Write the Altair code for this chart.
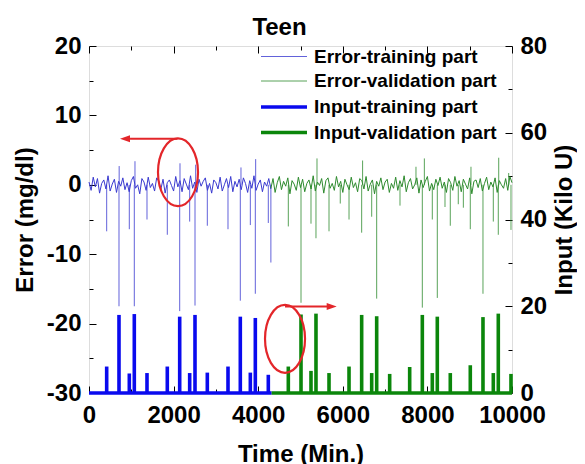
import altair as alt
import pandas as pd

FONT = "Liberation Sans"
W, H = 423, 347

# ---------------- data ----------------
series_names = ["Error-training part", "Error-validation part",
                "Input-training part", "Input-validation part"]
series_colors = ["#3a3ad0", "#2e8b2e", "#0a0aee", "#0b860b"]
series_widths = [0.8, 0.8, 3.6, 3.6]

# error noise, training part (every 50 min, 0..4300)
train_start, train_step = 0, 50
train_noise = [0.4, -0.8, 1.1, -0.3, 0.9, -1.2, 0.2, 0.7, -0.6, 1.3, -0.9, 0.1, 0.8, -1.1, 0.5, -0.2, 1.0, -0.7, 0.3, -1.0,
               0.6, 1.2, -0.5, 0.0, -1.3, 0.9, 0.4, -0.8, 1.1, -0.4, 0.2, -0.9, 1.0, 0.5, -0.6, 0.8, -1.2, 0.3, 0.7, -0.1,
               -0.9, 1.2, -0.3, 0.6, -1.0, 0.9, 0.1, -0.7, 1.3, -0.5, 0.4, -1.1, 0.8, -0.2, 0.5, 1.0, -0.8, 0.2, -1.2, 0.7,
               0.3, -0.6, 1.1, -0.9, 0.0, 0.9, -0.4, 1.2, -1.0, 0.5, -0.3, 0.8, -0.7, 1.0, 0.2, -1.1, 0.6, -0.5, 1.3, -0.8,
               0.1, 0.7, -1.0, 0.4, -0.2, 0.9, -0.6]
# error noise, validation part (every 50 min, 4300..10000)
val_start, val_step = 4300, 50
val_noise = [-0.5, 0.9, -1.1, 0.3, 1.2, -0.7, 0.5, -0.2, 1.0, -1.3, 0.6, 0.1, -0.8, 1.1, -0.4, 0.8, -1.0, 0.2, 0.7, -0.6,
             1.3, -0.9, 0.4, -0.1, 0.9, -1.2, 0.6, 1.0, -0.5, 0.2, -0.8, 1.2, -0.3, 0.5, -1.1, 0.8, 0.0, -0.7, 1.1, -0.4,
             0.3, -1.0, 0.9, 0.6, -0.6, 1.2, -0.9, 0.1, 0.7, -1.3, 0.5, -0.2, 1.0, -0.7, 0.4, 0.8, -1.1, 0.2, -0.5, 1.1,
             -0.8, 0.6, -0.3, 1.3, -1.0, 0.3, 0.9, -0.6, 0.0, 1.0, -1.2, 0.7, -0.4, 0.5, 1.2, -0.9, 0.2, -0.7, 0.8, -0.1,
             1.1, -0.5, 0.4, -1.1, 0.9, 0.3, -0.8, 1.2, -0.2, 0.6, -1.0, 0.8, 0.1, -0.6, 1.0, -1.3, 0.5, 0.7, -0.4, 0.9,
             -0.9, 0.2, 1.1, -0.7, 0.4, -0.3, 1.0, -1.1, 0.6, 0.0, -0.5, 0.9, -0.8, 1.2, 0.3]

# error spikes
spike_train_t = [418, 709, 953, 1071, 1371, 1851, 2144, 2380, 2506, 2797, 3286, 3577, 3814, 3932, 4239, 4300,
                 713, 1087, 2151, 2522, 3593, 3940]
spike_train_v = [-6.7, -17.5, -6.4, -17.5, -5.0, -7.2, -18.2, -5.3, -17.4, -5.9, -6.4, -16.7, -5.8, -15.7, -5.5, -11.2,
                 2.7, 3.4, 3.1, 2.9, 2.5, 3.7]
spike_val_t = [4712, 5012, 5248, 5366, 5674, 5940, 6147, 6446, 6683, 6801, 7352, 7880, 8116, 8234, 8416, 8541,
               8730, 8850, 9014, 9314, 9558, 9676, 9976,
               5390, 6468, 7730, 7928, 9030, 9686, 9922]
spike_val_v = [-6.0, -17.0, -5.6, -7.7, -6.7, -2.7, -5.0, -6.9, -4.6, -16.4, -3.0, -17.7, -5.0, -16.3, -3.2, -5.9,
               -2.8, -3.3, -6.4, -15.7, -5.3, -7.2, -6.5,
               3.8, 3.5, 2.6, 3.8, 2.6, 3.9, 1.7]

# insulin input pulses (Kilo U)
input_train_t = [418, 709, 953, 1071, 1371, 1851, 2144, 2380, 2506, 2797, 3286, 3577, 3814, 3932, 4239]
input_train_v = [6.1, 18.0, 4.5, 18.2, 4.6, 6.1, 17.6, 4.6, 18.0, 4.7, 6.1, 17.6, 4.7, 17.3, 4.2]
input_val_t = [4712, 5012, 5248, 5366, 5674, 6147, 6446, 6683, 6801, 7108, 7581, 7880, 8116, 8234, 8541,
               9014, 9314, 9558, 9676, 9976]
input_val_v = [6.1, 18.1, 5.1, 18.3, 4.6, 6.1, 18.0, 4.6, 17.7, 4.4, 6.0, 18.0, 4.6, 17.6, 4.6,
               6.4, 17.5, 4.6, 18.3, 4.4]
split_time = 4318
end_time = 10000

# red annotations (in Error units)
ellipse_t = [2104, 4634]
ellipse_v = [1.8, -22.2]
arrow_t0 = [970, 4634]
arrow_t1 = [2090, 5700]
arrow_v = [6.64, -17.54]
head_t = [851, 5738]
head_dir = ["left", "right"]

# tick positions
x_major = [0, 2000, 4000, 6000, 8000, 10000]
x_minor = [1000, 3000, 5000, 7000, 9000]
err_major = [-30, -20, -10, 0, 10, 20]
err_minor = [-25, -15, -5, 5, 15]
inp_major = [0, 20, 40, 60, 80]
inp_minor = [10, 30, 50, 70]

# ---------------- frames ----------------
df_train = pd.DataFrame({"t": list(range(train_start, train_start + train_step * len(train_noise), train_step)),
                         "v": train_noise, "series": series_names[0]})
df_val = pd.DataFrame({"t": list(range(val_start, val_start + val_step * len(val_noise), val_step)),
                       "v": val_noise, "series": series_names[1]})
df_spk = pd.concat([
    pd.DataFrame({"t": spike_train_t, "v": spike_train_v, "series": series_names[0]}),
    pd.DataFrame({"t": spike_val_t, "v": spike_val_v, "series": series_names[1]}),
])
df_spk["z"] = 0.0
df_inp_tr = pd.DataFrame({"t": input_train_t, "v": input_train_v, "series": series_names[2], "z": 0.0})
df_inp_va = pd.DataFrame({"t": input_val_t, "v": input_val_v, "series": series_names[3], "z": 0.0})
df_base = pd.DataFrame({"t": [0, split_time], "t2": [split_time, end_time], "z": [0.0, 0.0],
                        "series": [series_names[2], series_names[3]]})
df_ell = pd.DataFrame({"t": ellipse_t, "v": ellipse_v})
df_arr = pd.DataFrame({"t": arrow_t0, "t2": arrow_t1, "v": arrow_v})
df_head = pd.DataFrame({"t": head_t, "v": arrow_v, "dir": head_dir})

# ---------------- scales / axes ----------------
xs = alt.Scale(domain=[0, 10000], nice=False, zero=False)
err_s = alt.Scale(domain=[-30, 20], nice=False, zero=False)
inp_s = alt.Scale(domain=[0, 80], nice=False, zero=False)

txt = dict(labelFont=FONT, labelFontSize=24, labelFontWeight="bold", labelColor="black",
           titleFont=FONT, titleFontSize=24, titleFontWeight="bold", titleColor="black",
           labelExpr="'' + datum.value")
tk = dict(labels=False, domain=False, grid=False, title=None, tickColor="black", tickWidth=1)

def tick_axis(orient, offset, values, size):
    return alt.Axis(orient=orient, offset=offset, values=values, tickSize=size, **tk)

x_lab = alt.Axis(orient="bottom", values=x_major, ticks=False, domain=False,
                 grid=False, labelPadding=10, labelFlush=False, labelOverlap=False,
                 title="Time (Min.)", titlePadding=15, **txt)
y_err_lab = alt.Axis(orient="left", values=err_major, ticks=False, domain=False, grid=False,
                     labelPadding=8, labelOverlap=False, title="Error (mg/dl)", titlePadding=9,
                     titleAngle=270, titleBaseline="bottom", **txt)
y_inp_lab = alt.Axis(orient="right", values=inp_major, ticks=False, domain=False, grid=False,
                     labelPadding=8, labelOverlap=False, title="Input (Kilo U)", titlePadding=6,
                     titleAngle=270, titleBaseline="top", **txt)

leg = alt.Legend(title=None, orient="none", legendX=196, legendY=0, symbolType="M-3.6,0H1", symbolSize=400,
                 labelFont=FONT, labelFontSize=19, labelFontWeight="bold", labelColor="black",
                 labelOffset=5, labelLimit=400, rowPadding=3.5, padding=0, symbolOpacity=1)
color = alt.Color("series:N", scale=alt.Scale(domain=series_names, range=series_colors), legend=leg)
sw = alt.StrokeWidth("series:N", scale=alt.Scale(type="ordinal", domain=series_names, range=series_widths),
                     legend=leg)

RED = "#e3262a"

spikes = alt.Chart(df_spk).mark_rule().encode(
    x=alt.X("t:Q", scale=xs, axis=tick_axis("bottom", -H, x_major, 7)),
    y=alt.Y("z:Q", scale=err_s, axis=tick_axis("right", -W, err_major, 7)), y2="v:Q",
    color=color, strokeWidth=sw)
err_tr = alt.Chart(df_train).mark_line(strokeWidth=1.0).encode(
    x=alt.X("t:Q", scale=xs, axis=x_lab),
    y=alt.Y("v:Q", scale=err_s, axis=y_err_lab), color=color)
err_va = alt.Chart(df_val).mark_line(strokeWidth=1.0).encode(
    x=alt.X("t:Q", scale=xs, axis=tick_axis("top", -H, x_major, 7)),
    y=alt.Y("v:Q", scale=err_s, axis=tick_axis("right", -W, err_minor, 4)), color=color)
inp_tr = alt.Chart(df_inp_tr).mark_rule(strokeCap="butt").encode(
    x=alt.X("t:Q", scale=xs, axis=None),
    y=alt.Y("z:Q", scale=inp_s, axis=y_inp_lab), y2="v:Q", color=color, strokeWidth=sw)
inp_va = alt.Chart(df_inp_va).mark_rule(strokeCap="butt").encode(
    x=alt.X("t:Q", scale=xs, axis=None),
    y=alt.Y("z:Q", scale=inp_s, axis=tick_axis("left", -W, inp_major, 7)), y2="v:Q",
    color=color, strokeWidth=sw)
base = alt.Chart(df_base).mark_rule().encode(
    x=alt.X("t:Q", scale=xs, axis=None), x2="t2:Q",
    y=alt.Y("z:Q", scale=inp_s, axis=tick_axis("left", -W, inp_minor, 4)), color=color, strokeWidth=sw)
ell = alt.Chart(df_ell).mark_point(
    shape="M-0.59,0A0.59,1,0,1,0,0.59,0A0.59,1,0,1,0,-0.59,0Z",
    size=4600, filled=False, stroke=RED, strokeWidth=2.2, opacity=1).encode(
    x=alt.X("t:Q", scale=xs, axis=tick_axis("bottom", -H, x_minor, 4)),
    y=alt.Y("v:Q", scale=err_s, axis=None))
arr = alt.Chart(df_arr).mark_rule(color=RED, strokeWidth=2).encode(
    x=alt.X("t:Q", scale=xs, axis=tick_axis("top", -H, x_minor, 4)), x2="t2:Q",
    y=alt.Y("v:Q", scale=err_s, axis=None))
head = alt.Chart(df_head).mark_point(filled=True, size=100, color=RED, opacity=1).encode(
    x=alt.X("t:Q", scale=xs, axis=None), y=alt.Y("v:Q", scale=err_s, axis=None),
    shape=alt.Shape("dir:N", scale=alt.Scale(domain=["left", "right"],
                                             range=["M-1,0L1,-0.7L1,0.7Z", "M1,0L-1,-0.7L-1,0.7Z"]),
                    legend=None))

chart = alt.layer(spikes, err_tr, err_va, inp_tr, inp_va, base, ell, arr, head).resolve_scale(
    y="independent").resolve_axis(x="independent", y="independent").properties(
    width=W, height=H,
    title=alt.TitleParams("Teen", font=FONT, fontSize=24, fontWeight="bold", color="black",
                          anchor="middle", frame="group", dx=-21, dy=27, offset=2, baseline="alphabetic"),
    autosize=alt.AutoSizeParams(type="none"),
    padding={"left": 81, "top": 38, "right": 65, "bottom": 71},
).configure_view(stroke="black", strokeWidth=1.3).configure(background="white")

chart.save("out.html", embed_options={"renderer": "svg", "actions": False})
